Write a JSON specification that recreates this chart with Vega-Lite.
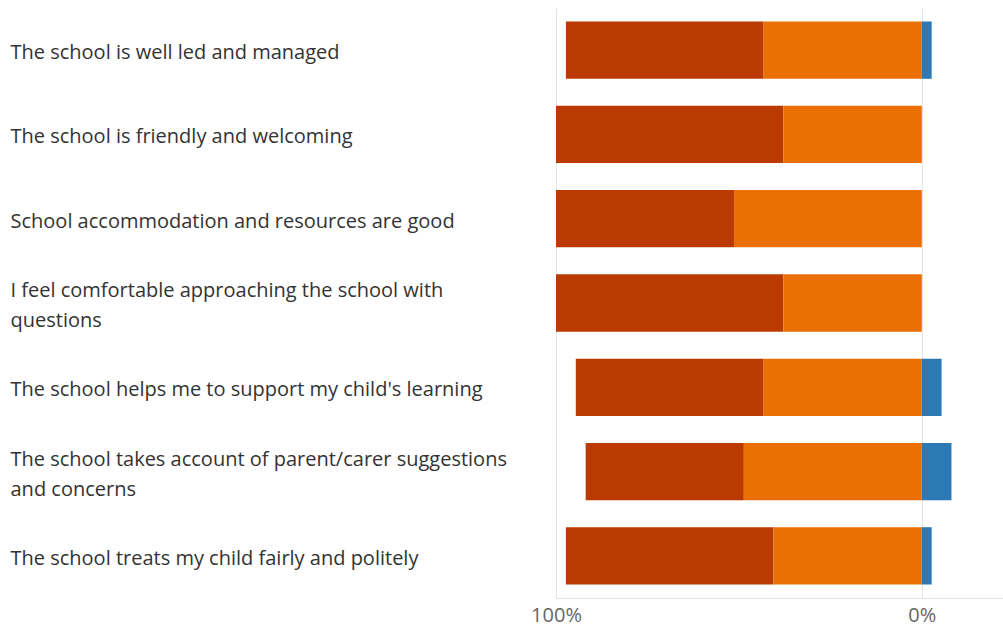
{
  "$schema": "https://vega.github.io/schema/vega-lite/v6.json",
  "autosize": {"type": "none"},
  "padding": {"left": 556, "top": 8, "right": 0, "bottom": 29},
  "width": 447,
  "height": 590,
  "background": "white",
  "config": {
    "view": {"stroke": null},
    "font": "Open Sans"
  },
  "data": {
    "values": [
      {"question": "The school is well led and managed", "category": "Strongly agree", "value": -54.05},
      {"question": "The school is well led and managed", "category": "Agree", "value": -43.24},
      {"question": "The school is well led and managed", "category": "Disagree", "value": 2.70},
      {"question": "The school is friendly and welcoming", "category": "Strongly agree", "value": -62.16},
      {"question": "The school is friendly and welcoming", "category": "Agree", "value": -37.84},
      {"question": "School accommodation and resources are good", "category": "Strongly agree", "value": -48.65},
      {"question": "School accommodation and resources are good", "category": "Agree", "value": -51.35},
      {"question": "I feel comfortable approaching the school with|questions", "category": "Strongly agree", "value": -62.16},
      {"question": "I feel comfortable approaching the school with|questions", "category": "Agree", "value": -37.84},
      {"question": "The school helps me to support my child's learning", "category": "Strongly agree", "value": -51.35},
      {"question": "The school helps me to support my child's learning", "category": "Agree", "value": -43.24},
      {"question": "The school helps me to support my child's learning", "category": "Disagree", "value": 5.41},
      {"question": "The school takes account of parent/carer suggestions|and concerns", "category": "Strongly agree", "value": -43.24},
      {"question": "The school takes account of parent/carer suggestions|and concerns", "category": "Agree", "value": -48.65},
      {"question": "The school takes account of parent/carer suggestions|and concerns", "category": "Disagree", "value": 8.11},
      {"question": "The school treats my child fairly and politely", "category": "Strongly agree", "value": -56.76},
      {"question": "The school treats my child fairly and politely", "category": "Agree", "value": -40.54},
      {"question": "The school treats my child fairly and politely", "category": "Disagree", "value": 2.70}
    ]
  },
  "mark": {"type": "bar"},
  "encoding": {
    "y": {
      "field": "question",
      "type": "nominal",
      "sort": null,
      "scale": {"paddingInner": 0.32, "paddingOuter": 0.16},
      "axis": {
        "title": null,
        "domain": false,
        "ticks": false,
        "grid": false,
        "labelAlign": "left",
        "labelPadding": 546,
        "labelLimit": 0,
        "labelFontSize": 20,
        "labelColor": "#333333",
        "labelLineHeight": 30,
        "labelBaseline": "middle",
        "labelOffset": {"condition": {"test": "indexof(datum.value, '|') >= 0", "value": -12}, "value": 3},
        "labelExpr": "split(datum.label, '|')"
      }
    },
    "x": {
      "field": "value",
      "type": "quantitative",
      "stack": "zero",
      "scale": {"domain": [-100, 22.2], "nice": false, "zero": false},
      "axis": {
        "title": null,
        "values": [-100, 0],
        "labelExpr": "abs(datum.value) + '%'",
        "ticks": false,
        "labelPadding": 7,
        "labelFontSize": 20,
        "labelColor": "#666666",
        "labelFlush": false,
        "domain": true,
        "domainColor": "#e3e3e3",
        "gridColor": "#e3e3e3",
        "grid": true
      }
    },
    "color": {
      "field": "category",
      "type": "nominal",
      "scale": {"domain": ["Strongly agree", "Agree", "Disagree"], "range": ["#BA3A02", "#EA7005", "#2C7AB5"]},
      "legend": null
    },
    "order": {"field": "category", "sort": "ascending"}
  }
}
